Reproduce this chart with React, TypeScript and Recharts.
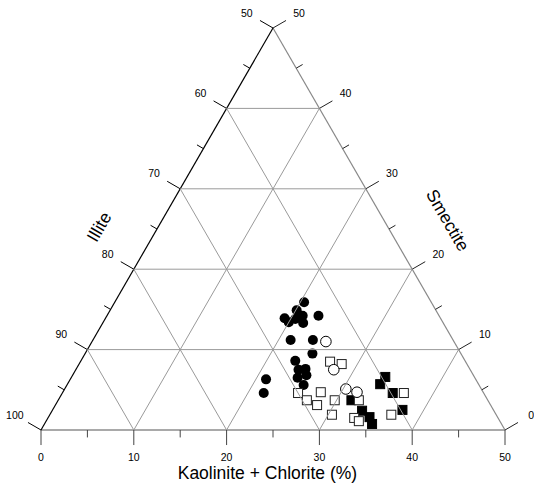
import React from 'react';
import { ScatterChart, Scatter, XAxis, YAxis, ReferenceLine, ReferenceDot } from 'recharts';

const H = Math.sqrt(3) / 2;

// Samples as [Kaolinite + Chlorite %, Smectite %]; Illite = 100 - both
const filledCircles: [number, number][] = [
  [20.4, 15.9], [20.1, 14.9], [19.3, 13.9], [20.0, 13.4], [20.5, 13.8], [20.8, 14.1],
  [21.1, 14.2], [21.6, 13.3], [22.8, 14.2], [21.3, 11.2], [23.7, 11.2], [24.5, 9.5],
  [23.1, 8.6], [24.0, 7.5], [24.7, 7.6], [25.2, 6.8], [24.4, 6.5], [25.5, 5.6],
  [21.1, 6.3], [21.7, 4.6],
];
const openCircles: [number, number][] = [
  [25.2, 11.0], [27.8, 7.5], [30.3, 5.1], [31.7, 4.7],
];
const openSquares: [number, number][] = [
  [26.9, 8.5], [28.3, 8.2], [25.4, 4.6], [27.8, 4.7], [26.8, 3.7], [28.2, 3.1],
  [29.8, 3.7], [30.4, 1.9], [32.4, 3.7], [33.0, 1.5], [33.7, 1.1], [36.8, 1.9], [36.8, 4.6],
];
const filledSquares: [number, number][] = [
  [33.8, 6.6], [33.7, 5.7], [35.6, 4.6], [37.7, 2.5], [31.6, 3.7], [33.4, 2.4],
  [34.6, 1.6], [35.3, 0.75],
];

const kaoliniteTicks = [0, 10, 20, 30, 40, 50];
const illiteTicks = [100, 90, 80, 70, 60, 50];
const smectiteTicks = [0, 10, 20, 30, 40, 50];
const minorTicks = [5, 15, 25, 35, 45];
const gridValues = [10, 20, 30, 40];

const FONT = "Arial, 'Liberation Sans', Helvetica, sans-serif";

const toXY = (k: number, s: number) => ({ x: k + s / 2, y: s * H });
const toData = (arr: [number, number][]) => arr.map(([k, s]) => ({ ...toXY(k, s), k, s }));

const MAJOR = 1.62;
const MINOR = 0.8;
const LABEL_OFF = 3.25;
const nLeft = { x: -H, y: 0.5 };
const nRight = { x: H, y: 0.5 };

const FilledCircle = (p: any) => <circle cx={p.cx} cy={p.cy} r={5} fill="#000" />;
const OpenCircle = (p: any) => (
  <circle cx={p.cx} cy={p.cy} r={5.3} fill="#fff" stroke="#000" strokeWidth={1} />
);
const OpenSquare = (p: any) => (
  <rect x={p.cx - 4.5} y={p.cy - 4.5} width={9} height={9} fill="#fff" stroke="#222" strokeWidth={1} />
);
const FilledSquare = (p: any) => (
  <rect x={p.cx - 4.5} y={p.cy - 4.5} width={9} height={9} fill="#000" stroke="#000" strokeWidth={1} />
);

type Seg = { a: { x: number; y: number }; b: { x: number; y: number }; stroke: string; w: number; top?: boolean };

const segments: Seg[] = [];
// grid
gridValues.forEach((g) => {
  segments.push({ a: toXY(0, g), b: toXY(50 - g, g), stroke: '#9a9a9a', w: 1, top: true });
  segments.push({ a: toXY(g, 0), b: toXY(g, 50 - g), stroke: '#9a9a9a', w: 1, top: true });
  segments.push({ a: toXY(g, 0), b: toXY(0, g), stroke: '#9a9a9a', w: 1, top: true });
});
// edges
segments.push({ a: toXY(0, 0), b: toXY(50, 0), stroke: '#555', w: 1.2 });
segments.push({ a: toXY(50, 0), b: toXY(0, 50), stroke: '#888', w: 1.2 });
segments.push({ a: toXY(0, 0), b: toXY(0, 50), stroke: '#000', w: 1.2 });
// bottom ticks
kaoliniteTicks.forEach((k) => {
  const p = toXY(k, 0);
  segments.push({ a: p, b: { x: p.x, y: p.y - MAJOR }, stroke: '#444', w: 1 });
});
minorTicks.forEach((k) => {
  const p = toXY(k, 0);
  segments.push({ a: p, b: { x: p.x, y: p.y - MINOR }, stroke: '#444', w: 1 });
});
// left ticks
illiteTicks.forEach((i) => {
  const p = toXY(0, 100 - i);
  segments.push({ a: p, b: { x: p.x + nLeft.x * MAJOR, y: p.y + nLeft.y * MAJOR }, stroke: '#000', w: 1 });
});
minorTicks.forEach((s) => {
  const p = toXY(0, s);
  segments.push({ a: p, b: { x: p.x + nLeft.x * MINOR, y: p.y + nLeft.y * MINOR }, stroke: '#000', w: 1 });
});
// right ticks
smectiteTicks.forEach((s) => {
  const p = toXY(50 - s, s);
  segments.push({ a: p, b: { x: p.x + nRight.x * MAJOR, y: p.y + nRight.y * MAJOR }, stroke: '#222', w: 1 });
});
minorTicks.forEach((s) => {
  const p = toXY(50 - s, s);
  segments.push({ a: p, b: { x: p.x + nRight.x * MINOR, y: p.y + nRight.y * MINOR }, stroke: '#222', w: 1 });
});

type Lab = { x: number; y: number; text: string; size: number; angle?: number };
const labels: Lab[] = [];
kaoliniteTicks.forEach((k) => {
  const p = toXY(k, 0);
  labels.push({ x: p.x, y: p.y - 2.9, text: String(k), size: 10.5 });
});
illiteTicks.forEach((i) => {
  const p = toXY(0, 100 - i);
  labels.push({ x: p.x + nLeft.x * LABEL_OFF, y: p.y + nLeft.y * LABEL_OFF, text: String(i), size: 10.5 });
});
smectiteTicks.forEach((s) => {
  const p = toXY(50 - s, s);
  labels.push({ x: p.x + nRight.x * LABEL_OFF, y: p.y + nRight.y * LABEL_OFF, text: String(s), size: 10.5 });
});
labels.push({ x: 24.4, y: -4.65, text: 'Kaolinite + Chlorite (%)', size: 17.5 });
labels.push({ x: 6.25, y: 21.9, text: 'Illite', size: 17.5, angle: -60 });
labels.push({ x: 43.85, y: 22.6, text: 'Smectite', size: 17.5, angle: 60 });

export default function App() {
  return (
    <div style={{ position: 'absolute', left: 0, top: 0, width: 534, height: 485, background: '#fff' }}>
      <ScatterChart width={534} height={485} margin={{ top: 28, right: 29, bottom: 55, left: 41 }}>
        <XAxis type="number" dataKey="x" domain={[0, 50]} allowDataOverflow hide />
        <YAxis type="number" dataKey="y" domain={[0, 50 * H]} allowDataOverflow hide />
        <Scatter data={toData(filledCircles)} shape={FilledCircle} isAnimationActive={false} />
        <Scatter data={toData(filledSquares)} shape={FilledSquare} isAnimationActive={false} />
        <Scatter data={toData(openSquares)} shape={OpenSquare} isAnimationActive={false} />
        <Scatter data={toData(openCircles)} shape={OpenCircle} isAnimationActive={false} />
        {segments.map((sg, i) => (
          <ReferenceLine
            key={'s' + i}
            segment={[sg.a, sg.b]}
            stroke={sg.stroke}
            strokeWidth={sg.w}
            ifOverflow="visible"
            {...({ zIndex: sg.top ? 700 : 500 } as any)}
          />
        ))}
        {labels.map((l, i) => (
          <ReferenceDot
            key={'l' + i}
            x={l.x}
            y={l.y}
            r={0}
            fill="none"
            stroke="none"
            ifOverflow="visible"
            label={{
              value: l.text,
              position: 'center',
              angle: l.angle ?? 0,
              fontSize: l.size,
              fill: '#000',
              fontFamily: FONT,
            }}
          />
        ))}
      </ScatterChart>
    </div>
  );
}
